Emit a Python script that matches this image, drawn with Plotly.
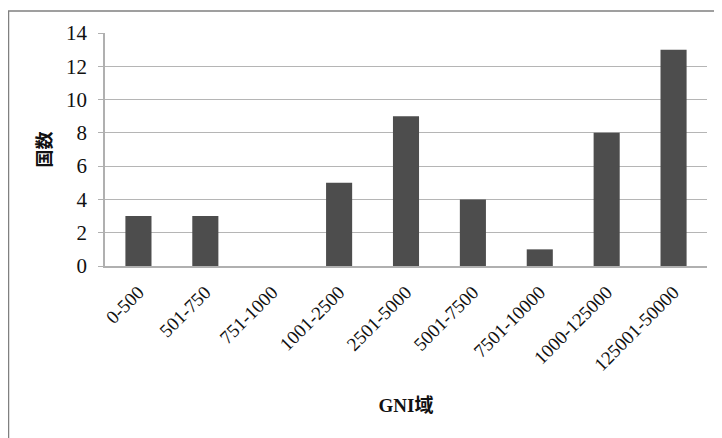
import plotly.graph_objects as go

categories = ["0-500", "501-750", "751-1000", "1001-2500", "2501-5000",
              "5001-7500", "7501-10000", "1000-125000", "125001-50000"]
counts = [3, 3, 0, 5, 9, 4, 1, 8, 13]
y_ticks = [0, 2, 4, 6, 8, 10, 12, 14]

# page body has an 8px offset in the browser
W, H = 714, 430
L, R, T, B = 97, 15, 25, 172
pw, ph = W - L - R, H - T - B

font_fam = "Liberation Serif, Noto Sans CJK JP, serif"

fig = go.Figure(go.Bar(
    x=categories, y=counts,
    marker=dict(color="#4d4d4d", line=dict(width=0)),
))

fig.update_layout(
    width=W, height=H,
    margin=dict(l=L, r=R, t=T, b=B),
    paper_bgcolor="white", plot_bgcolor="white",
    bargap=0.61,
    showlegend=False,
    font=dict(family=font_fam, size=19, color="#111111"),
    xaxis=dict(
        type="category",
        tickangle=-45,
        tickfont=dict(size=19),
        ticklabelstandoff=6,
        showgrid=False,
        showline=True, linecolor="#b0b0b0", linewidth=1.5,
        ticks="",
        title=dict(text="<b>GNI域</b>", font=dict(size=19), standoff=25),
    ),
    yaxis=dict(
        range=[0, 14],
        tickvals=y_ticks,
        tickfont=dict(size=21),
        ticklabelstandoff=7,
        showgrid=True, gridcolor="#b5b5b5", gridwidth=1.3,
        showline=True, linecolor="#b0b0b0", linewidth=1.5,
        ticks="outside", ticklen=5, tickcolor="#b0b0b0",
        zeroline=False,
        title=dict(text="<b>国数</b>", font=dict(size=18), standoff=10),
    ),
    shapes=[dict(
        type="rect", xref="paper", yref="paper",
        x0=(0.5 - L) / pw, x1=2.0,
        y0=-2.0, y1=(H - 3 - B) / ph,
        line=dict(color="#808080", width=1.5),
        fillcolor="rgba(0,0,0,0)", layer="below",
    )],
)

fig.write_html("out.html")
